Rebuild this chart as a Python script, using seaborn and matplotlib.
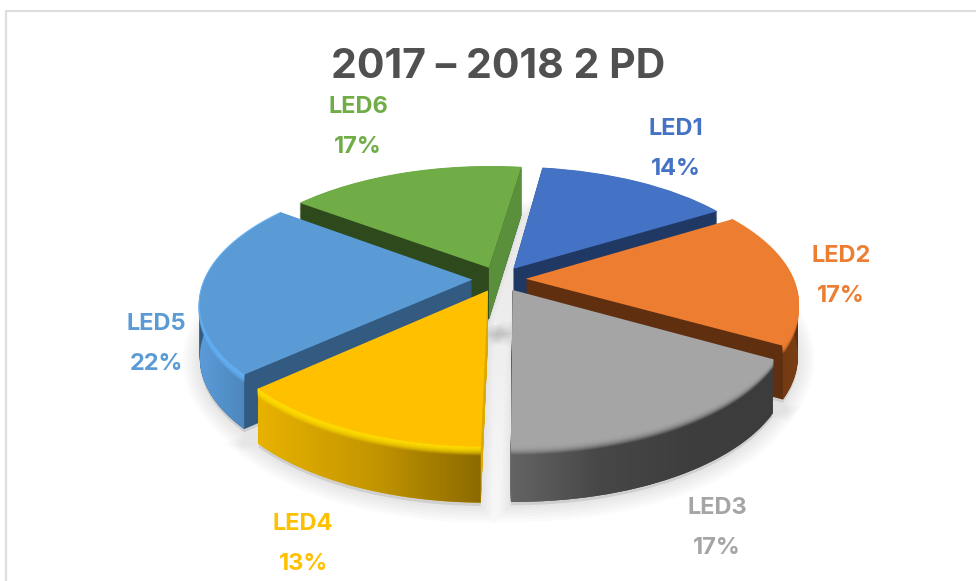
import numpy as np
import matplotlib
matplotlib.use('Agg')
import matplotlib.pyplot as plt
import seaborn as sns
from matplotlib.colors import LinearSegmentedColormap
from matplotlib.patches import PathPatch
from matplotlib.path import Path
from matplotlib.transforms import Transform

# data
title = '2017 – 2018 2 PD'
labels = ['LED1', 'LED2', 'LED3', 'LED4', 'LED5', 'LED6']
values = [14, 17, 17, 13, 22, 17]

colors = ['#4472c4', '#ed7d31', '#a5a5a5', '#ffc000', '#5b9bd5', '#70ad47']
wall_colors = ['#203864', '#5f2f10', '#444444', '#e0ac00', '#335a80', '#2e4a1c']

# 3D look
cx, cy, sx, sy, persp, depth = 499, 279, 267, 123.7, 0.179, 52
start_angle = 82
explode_by = 0.1

# drawing order of the slices, back to front
layer = [1, 2, 3, 3, 2, 1]
label_xy = [(676, 129), (841, 256), (717, 508), (303, 524), (156, 324), (358, 107)]
rim_stops = {
    1: ['#5f2f10', '#7a3e14'],
    2: ['#646464', '#474747', '#3e3e3e', '#3c3c3c'],
    3: ['#e8b200', '#c59700', '#8c6a00'],
    4: ['#5b9bd8', '#4f8cc4', '#457aa8'],
}
bevel = {1: '#ed7d31', 2: '#a5a5a5', 3: '#ffdc00', 4: '#62aef2'}
# radial faces that catch the light: slice -> which edge, colour
lit_faces = {5: ('theta1', '#5a8f3c'), 3: ('theta2', '#dcaa00')}


class PieProjection(Transform):
    # unit pie plane -> pixels of the picture, z = 1 is the bottom of the disc
    input_dims = 2
    output_dims = 2

    def __init__(self, z=0.0):
        super().__init__()
        self.z = z

    def transform_non_affine(self, values):
        u, v = values[:, 0], values[:, 1]
        w = 1 + persp * v
        x = cx + sx * u / w
        y = cy - sy * v / w + depth * self.z * (1 - 0.07 * v)
        return np.column_stack([x, y])


def arc(wedge, z, n=80):
    t = np.radians(np.linspace(wedge.theta1, wedge.theta2, n))
    pts = np.column_stack([wedge.center[0] + wedge.r * np.cos(t),
                           wedge.center[1] + wedge.r * np.sin(t)])
    return PieProjection(z).transform(pts)


def draw_pie(ax, cols, z, zorders, **props):
    wedges, _ = ax.pie(values, colors=cols, startangle=start_angle, counterclock=False,
                       explode=[explode_by] * len(values), frame=True, wedgeprops=props)
    for w, zo in zip(wedges, zorders):
        w.set_transform(PieProjection(z) + ax.transData)
        w.set_zorder(zo)
    return wedges


sns.set_theme(style='white')
plt.rcParams['font.family'] = ['Inter', 'DejaVu Sans']

fig = plt.figure(figsize=(9.76, 5.81), dpi=100, facecolor='white')
ax = fig.add_axes([0, 0, 1, 1])

# soft shadow under the discs
for lw in [24, 20, 16, 12, 8, 4]:
    draw_pie(ax, ['#000000'] * 6, 1.06, [1] * 6, alpha=0.016, linewidth=lw, edgecolor='#000000')

# walls, stacked from the bottom up
for z in np.linspace(1, 0.01, 57):
    draw_pie(ax, wall_colors, z, [n * 10 + 1 for n in layer], linewidth=0)

# top faces
tops = draw_pie(ax, colors, 0, [n * 10 + 5 for n in layer], linewidth=0)

# lighter radial faces
for i, (edge_name, col) in lit_faces.items():
    t = np.radians(getattr(tops[i], edge_name))
    ends = np.array([tops[i].center,
                     [tops[i].center[0] + np.cos(t), tops[i].center[1] + np.sin(t)]])
    a, b = PieProjection(0).transform(ends), PieProjection(1).transform(ends)
    face = np.vstack([a, b[::-1]])
    ax.fill(face[:, 0], face[:, 1], color=col, lw=0, zorder=layer[i] * 10 + 2)

# rounded rims with the side gradient
for i, stops in rim_stops.items():
    top_arc, bottom_arc = arc(tops[i], 0), arc(tops[i], 1)
    poly = np.vstack([top_arc, bottom_arc[::-1], top_arc[:1]])
    clip = PathPatch(Path(poly), transform=ax.transData)
    front = poly[poly[:, 1] > cy - 10]
    im = ax.imshow(np.linspace(0, 1, 256)[None, :], aspect='auto',
                   cmap=LinearSegmentedColormap.from_list(labels[i], stops),
                   extent=(front[:, 0].min(), front[:, 0].max(), poly[:, 1].max(), poly[:, 1].min()),
                   zorder=layer[i] * 10 + 2)
    im.set_clip_path(clip)
    for k, z in enumerate(np.linspace(0.14, 0.0, 9)):
        edge = arc(tops[i], z)
        ax.plot(edge[:, 0], edge[:, 1], color=bevel[i], alpha=0.12 + k * 0.1, lw=1.6,
                zorder=layer[i] * 10 + 3, solid_capstyle='butt')

# labels
for name, val, col, (lx, ly) in zip(labels, values, colors, label_xy):
    ax.text(lx, ly, name, color=col, fontsize=17, fontweight='bold', ha='center', va='center', zorder=90)
    ax.text(lx, ly + 40, f'{val}%', color=col, fontsize=17, fontweight='bold', ha='center', va='center', zorder=90)

ax.text(498, 67, title, color='#505050', fontsize=29.5, fontweight='bold', ha='center', va='center', zorder=90)

# picture frame
ax.plot([6, 6, 976], [581, 11, 11], color='#dedede', lw=1.6, zorder=95)

ax.set_aspect('auto')
ax.set_xlim(0, 976)
ax.set_ylim(581, 0)
ax.axis('off')

fig.savefig('out.png', dpi=100, facecolor='white')
